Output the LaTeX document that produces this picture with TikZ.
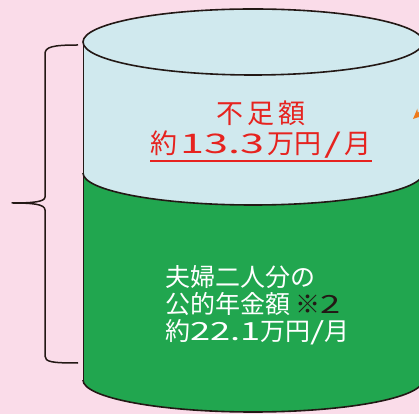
\documentclass[tikz,border=0pt]{standalone}
\usepackage{fontspec}
\usepackage{graphicx}
\newfontfamily\jpfont{Noto Sans CJK JP}
\newcommand{\widenum}[2][1.6]{\scalebox{#1}[1]{#2}}
\definecolor{pinkbg}{HTML}{FADCE9}
\definecolor{lightblue}{HTML}{D0E9EE}
\definecolor{pensiongreen}{HTML}{21A64F}
\definecolor{shortred}{HTML}{E6231F}
\definecolor{inkblack}{HTML}{231815}
\definecolor{arroworange}{HTML}{EE7A1A}
\usetikzlibrary{arrows.meta}

\begin{document}
\begin{tikzpicture}[x=1pt,y=1pt,line join=round,
	outline/.style={draw=inkblack,line width=1.6pt},
	redlabel/.style={text=shortred,font=\jpfont\fontsize{27}{30}\selectfont,inner sep=0pt},
	whitelabel/.style={text=white,font=\jpfont\fontsize{25}{27}\selectfont,align=left,inner sep=0pt}]
	\useasboundingbox (0,0) rectangle (419,414);
	\clip (0,0) rectangle (419,414);
	\fill[pinkbg] (0,0) rectangle (419,414);
	\fill[lightblue] (83,372) -- (83,241) arc[start angle=180,end angle=360,x radius=170,y radius=32]
		-- (423,372) arc[start angle=0,end angle=180,x radius=170,y radius=33] -- cycle;
	\fill[pensiongreen] (83,241) -- (83,34) arc[start angle=180,end angle=360,x radius=170,y radius=32]
		-- (423,241) arc[start angle=0,end angle=-180,x radius=170,y radius=32] -- cycle;
	\draw[inkblack,line width=1pt] (83,372) -- (83,34) (423,372) -- (423,34);
	\draw[outline] (253,372) ellipse[x radius=170,y radius=33];
	\draw[outline] (83,241) arc[start angle=180,end angle=360,x radius=170,y radius=32];
	\draw[outline] (83,34) arc[start angle=180,end angle=360,x radius=170,y radius=32];
	\draw[inkblack,line width=1.5pt] (78,369) .. controls (52,369) and (45,367) .. (45,360) -- (45,217)
		.. controls (45,212) and (32,211) .. (12,211) .. controls (32,211) and (45,210) .. (45,204)
		-- (45,58) .. controls (45,52) and (52,51) .. (78,51);
	\node[redlabel] (shortagetitle) at (261,301) {不\hspace{4pt}足\hspace{4pt}額};
	\node[redlabel] (shortageamount) at (261,269) {約\hspace{3pt}\widenum{13.3}\hspace{3pt}万円\hspace{3pt}\widenum{/}\hspace{3pt}月};
	\draw[shortred,line width=1.3pt] ([yshift=-2pt]shortageamount.south west) -- ([yshift=-2pt]shortageamount.south east);
	\node[whitelabel,anchor=west] (pension) at (165,109) {夫婦二人分の\\公的年金額 {\color{inkblack}※\widenum[1.45]{2}}\\約\widenum[1.45]{22.1}万円\widenum[1.45]{/}月};
	\coordinate (arrowtail) at (440,320);
	\coordinate (arrowtip) at (413,295);
	\draw[arroworange,line width=2.5pt,-{Stealth[length=10pt,width=9pt]}] (arrowtail) -- (arrowtip);
\end{tikzpicture}
\end{document}
